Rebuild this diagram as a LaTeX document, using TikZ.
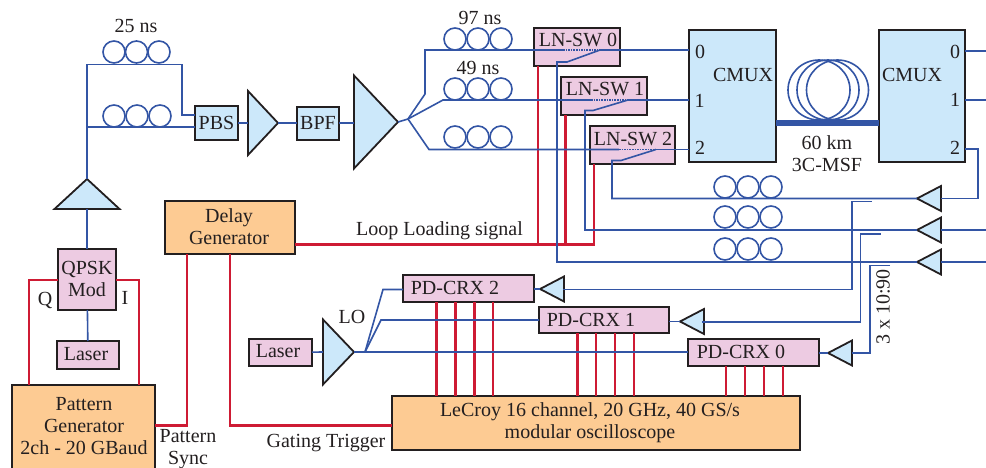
\documentclass[tikz,border=0pt]{standalone}
\usepackage{fontspec}
\setmainfont{Liberation Serif}
\usetikzlibrary{shapes.geometric}
\definecolor{fibreblue}{HTML}{3355A5}
\definecolor{signalred}{HTML}{CE1B34}
\definecolor{lightblue}{HTML}{CCE8FA}
\definecolor{lightpink}{HTML}{EDCBE2}
\definecolor{lightorange}{HTML}{FDCB93}
\definecolor{boxblack}{HTML}{231F20}

\begin{document}
\begin{tikzpicture}[x=1pt,y=-1pt,line join=miter,
    every node/.style={font=\fontsize{20}{22}\selectfont,text=boxblack,inner sep=0pt,outer sep=0pt},
    lbl/.style={anchor=base},
    twolines/.style={align=center},
    box/.style={draw=boxblack,line width=2pt},
    bluebox/.style={box,fill=lightblue},
    pinkbox/.style={box,fill=lightpink},
    orangebox/.style={box,fill=lightorange},
    amp/.style={isosceles triangle,isosceles triangle stretches,anchor=apex,draw=boxblack,fill=lightblue,line width=1.8pt},
    ampleft/.style={amp,shape border rotate=180,minimum height=24pt,minimum width=25pt},
    fibre/.style={draw=fibreblue,line width=1.6pt},
    signal/.style={draw=signalred,line width=2.6pt},
    coil/.style={circle,fibre,minimum size=22pt}]
    \useasboundingbox (0,0) rectangle (986,468);
    % coils
    \foreach \cx/\cy/\cname in {114/52/a,136.5/52/b,159/52/c,114/116/d,137/116/e,160/116/f,
        455/39/g,478/39/h,501/39/i,455/89/j,478/89/k,501/89/l,455/137/m,478/137/n,501/137/o,
        725/187/p,748/187/q,771/187/r,725/217/s,748/217/t,771/217/u,725/249/v,748/249/w,771/249/x}
        \node[coil] (coil\cname) at (\cx,\cy) {};
    \foreach \cx/\cname in {819/a,828/b,837.5/c}
        \node[ellipse,fibre,minimum width=62pt,minimum height=60pt] (span\cname) at (\cx,90) {};
    % boxes
    \node[bluebox,minimum width=43pt,minimum height=34pt] (pbs) at (216.5,123) {};
    \node[bluebox,minimum width=42pt,minimum height=33pt] (bpf) at (318,123.5) {};
    \node[pinkbox,minimum width=86pt,minimum height=38pt] (sw0) at (577,47) {};
    \node[pinkbox,minimum width=86pt,minimum height=38pt] (sw1) at (604,96) {};
    \node[pinkbox,minimum width=85pt,minimum height=38pt] (sw2) at (632.5,145) {};
    \node[bluebox,minimum width=87pt,minimum height=132pt] (mux0) at (732.5,96) {};
    \node[bluebox,minimum width=86pt,minimum height=132pt] (mux1) at (922,96) {};
    \node[orangebox,minimum width=130pt,minimum height=53pt] (delay) at (230,227.5) {};
    \node[pinkbox,minimum width=58pt,minimum height=61pt] (qpsk) at (87,279.5) {};
    \node[pinkbox,minimum width=62pt,minimum height=28pt] (laser0) at (88,355) {};
    \node[pinkbox,minimum width=63pt,minimum height=27pt] (laser1) at (280.5,352.5) {};
    \node[orangebox,minimum width=143pt,minimum height=90pt] (pattern) at (83.5,430) {};
    \node[orangebox,minimum width=408pt,minimum height=54pt] (scope) at (596,423) {};
    \node[pinkbox,minimum width=131pt,minimum height=27pt] (crx2) at (468.5,288.5) {};
    \node[pinkbox,minimum width=130pt,minimum height=26pt] (crx1) at (604,320) {};
    \node[pinkbox,minimum width=131pt,minimum height=27pt] (crx0) at (753.5,352.5) {};
    % amplifiers
    \node[amp,shape border rotate=90,minimum height=30pt,minimum width=65pt] (boost) at (87,179) {};
    \node[amp,minimum height=30pt,minimum width=64pt] (amp0) at (278,123) {};
    \node[amp,minimum height=44pt,minimum width=93pt] (amp1) at (398,122) {};
    \node[amp,minimum height=31pt,minimum width=65pt] (amplo) at (354,352) {};
    \node[ampleft] (loop0) at (917,198.5) {};
    \node[ampleft] (loop1) at (917,230) {};
    \node[ampleft] (loop2) at (917,262) {};
    \node[ampleft] (rx2) at (540,289) {};
    \node[ampleft] (rx1) at (680,321.5) {};
    \node[ampleft] (rx0) at (828,353) {};
    % free ends and branch points
    \coordinate (split) at (408,119);
    \coordinate (splitlo) at (365,352);
    \coordinate (fork) at (87,127);
    \coordinate (sw0a) at (563,50);
    \coordinate (sw0b) at (600,50);
    \coordinate (sw1a) at (591,100);
    \coordinate (sw1b) at (628,100);
    \coordinate (sw2a) at (619,149.5);
    \coordinate (sw2b) at (656,149.5);
    \coordinate (out0) at (986,51);
    \coordinate (out1) at (986,100);
    \coordinate (out2) at (986,230);
    \coordinate (out3) at (986,262);
    \coordinate (tap0) at (872,201.5);
    \coordinate (tap1) at (880.5,234);
    \coordinate (tap2) at (890,265.5);
    % electrical lines
    \draw[signal] (delay.east |- 0,244.5) -- (594,244.5) -- (594,164);
    \draw[signal] (538,244.5) -- (538,66);
    \draw[signal] (565.5,244.5) -- (565.5,115);
    \draw[signal] (187,254) -- (187,425.7) -- (155,425.7);
    \draw[signal] (230,254) -- (230,425.7) -- (392,425.7);
    \draw[signal] (58,280) -- (29,280) -- (29,385);
    \draw[signal] (116,280) -- (139,280) -- (139,385);
    \foreach \lx in {436.7,455.5,474.5,493} \draw[signal] (\lx,302) -- (\lx,396);
    \foreach \lx in {577.5,596,615,634} \draw[signal] (\lx,333) -- (\lx,396);
    \foreach \lx in {726,745,764,783} \draw[signal] (\lx,366) -- (\lx,396);
    % fibre lines
    \draw[fibre] (qpsk) -- (laser0);
    \draw[fibre] (boost.left corner |- 0,209) ++(0,0) (87,209) -- (87,249);
    \draw[fibre] (boost.apex) -- (87,64.7) -- (182,64.7) -- (182,115) -- (195,115);
    \draw[fibre] (fork) -- (195,127);
    \draw[fibre] (238,123) -- (248,123);
    \draw[fibre,line width=2.2pt] (amp0.apex) -- (297,123);
    \draw[fibre] (339,123) -- (354,123);
    \draw[fibre] (amp1.apex) -- (split);
    \draw[fibre] (split) -- (425,94) -- (425,50) -- (sw0a);
    \draw[fibre] (split) -- (443,100) -- (sw1a);
    \draw[fibre] (split) -- (429,149.5) -- (sw2a);
    \draw[fibre,densely dotted] (sw0a) -- (sw0b);
    \draw[fibre,densely dotted] (sw1a) -- (sw1b);
    \draw[fibre,densely dotted] (sw2a) -- (sw2b);
    \draw[fibre] (sw0b) -- (689,50);
    \draw[fibre] (sw1b) -- (689,100);
    \draw[fibre] (sw2b) -- (689,149.5);
    \draw[fibre] (sw0b) -- (567,62) -- (557,62) -- (557,262) -- (917,262);
    \draw[fibre] (sw1b) -- (593,110.5) -- (585,110.5) -- (585,230) -- (917,230);
    \draw[fibre] (sw2b) -- (621,160.5) -- (612,160.5) -- (612,198.5) -- (917,198.5);
    \draw[draw=fibreblue,line width=6pt] (mux0.east |- 0,123) -- (mux1.west |- 0,123);
    \draw[fibre] (965,51) -- (out0);
    \draw[fibre] (965,100) -- (out1);
    \draw[fibre] (965,149) -- (978,149) -- (978,198.5) -- (941,198.5);
    \draw[fibre] (941,230) -- (out2);
    \draw[fibre] (941,262) -- (out3);
    \draw[fibre] (tap0) -- (851.7,201.5) -- (851.7,289.3) -- (563,289.3);
    \draw[fibre] (tap1) -- (860.5,234) -- (860.5,321.7) -- (702,321.7);
    \draw[fibre] (tap2) -- (870,265.5) -- (870,353) -- (852,353);
    \draw[fibre] (crx2.east |- rx2.apex) -- (rx2.apex);
    \draw[fibre] (crx1.east |- rx1.apex) -- (rx1.apex);
    \draw[fibre] (crx0.east |- rx0.apex) -- (rx0.apex);
    \draw[fibre] (laser1) -- (323,352);
    \draw[fibre] (amplo.apex) -- (splitlo);
    \draw[fibre] (splitlo) -- (383,289.5) -- (403,289.5);
    \draw[fibre] (splitlo) -- (381,320) -- (539,320);
    \draw[fibre] (splitlo) -- (688,352);
    % texts
    \node[lbl] (t25) at (136,33) {25 ns};
    \node[lbl] (t97) at (480,25) {97 ns};
    \node[lbl] (t49) at (478,75) {49 ns};
    \node[lbl] (tpbs) at (216.5,129.5) {PBS};
    \node[lbl] (tbpf) at (318,130) {BPF};
    \node[lbl] (tsw0) at (578,47) {LN-SW 0};
    \node[lbl] (tsw1) at (605,96) {LN-SW 1};
    \node[lbl] (tsw2) at (633,145.7) {LN-SW 2};
    \node[lbl] (tmux0) at (743,82) {CMUX};
    \node[lbl] (tmux1) at (912,82) {CMUX};
    \node[lbl] (ta0) at (700,59) {0};
    \node[lbl] (ta1) at (699.5,108) {1};
    \node[lbl] (ta2) at (700,155) {2};
    \node[lbl] (tb0) at (955,59) {0};
    \node[lbl] (tb1) at (955,107) {1};
    \node[lbl] (tb2) at (955,155) {2};
    \node[twolines] (tspan) at (827,154) {60 km\\3C-MSF};
    \node[twolines] (tdelay) at (229,227) {Delay\\Generator};
    \node[lbl] (tload) at (439.5,235.7) {Loop Loading signal};
    \node[twolines] (tqpsk) at (87,279) {QPSK\\Mod};
    \node[lbl] (tq) at (45,305) {Q};
    \node[lbl] (ti) at (125,304) {I};
    \node[lbl] (tlaser0) at (86,360) {Laser};
    \node[lbl] (tlaser1) at (278,357) {Laser};
    \node[lbl] (tlo) at (352,323) {LO};
    \node[twolines] (tpattern) at (84,426) {Pattern\\Generator\\2ch - 20 GBaud};
    \node[twolines] (tsync) at (188,449) {Pattern\\Sync};
    \node[lbl] (tgate) at (326,447) {Gating Trigger};
    \node[lbl] (tcrx2) at (455,294) {PD-CRX 2};
    \node[lbl] (tcrx1) at (591,326) {PD-CRX 1};
    \node[lbl] (tcrx0) at (741,358) {PD-CRX 0};
    \node[twolines] (tscope) at (590,423) {LeCroy 16 channel, 20 GHz, 40 GS/s\\modular oscilloscope};
    \node[rotate=90] (tsplit) at (883,307) {3 x 10:90};
\end{tikzpicture}
\end{document}
